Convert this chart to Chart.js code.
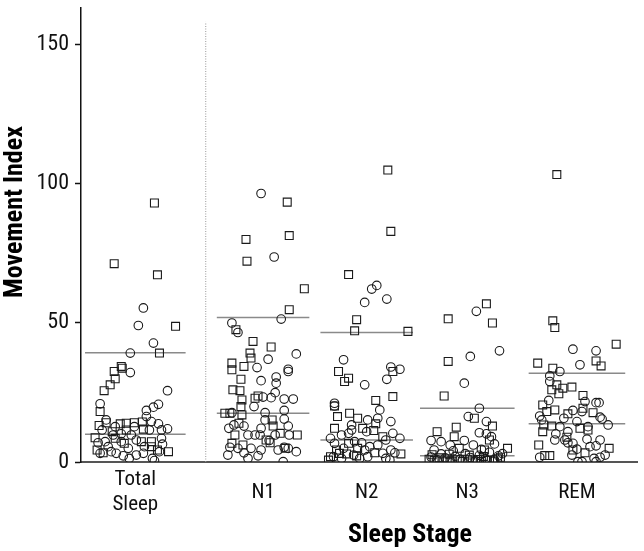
<!DOCTYPE html>
<html>
<head>
<meta charset="utf-8">
<script src="https://cdn.jsdelivr.net/npm/chart.js@4/dist/chart.umd.min.js"></script>
<style>
html, body { margin: 0; padding: 0; background: #fff; }
#wrap { width: 644px; height: 551px; position: relative; }
</style>
</head>
<body>
<div id="wrap"><canvas id="chart"></canvas></div>
<script>
// ---- data ----
const categories = [["Total", "Sleep"], "N1", "N2", "N3", "REM"];
const categoryCenters = [0, 1.27, 2.3, 3.3, 4.39];
const yTicks = [0, 50, 100, 150];

// horizontal reference lines per stage
const upperLine = [39.2, 51.9, 46.5, 19.3, 31.9];
const lowerLine = [10.0, 17.5, 7.9, 2.2, 13.7];

// [jitter, movement index]
const totalSquares = [[-0.21,71.2],[0.22,67.2],[0.40,48.7],[0.24,39.1],[-0.14,34.3],[-0.13,33.7],[-0.21,32.5],[-0.20,29.9],[-0.25,27.7],[-0.31,25.6],[-0.35,18.1],[-0.36,13.1],[-0.29,14.1],[-0.15,13.7],[-0.09,13.9],[-0.01,14.1],[0.07,14.4],[0.08,11.8],[-0.09,11.5],[-0.23,10.9],[-0.40,8.7],[0.06,7.3],[0.16,7.3],[0.16,5.5],[0.33,3.7],[-0.38,4.3],[-0.32,3.3],[-0.11,6.7],[0.22,4.3],[-0.20,8.5],[0.19,93.0]];
const totalCircles = [[0.08,55.3],[0.03,49.0],[0.18,42.7],[-0.05,39.1],[-0.05,32.1],[0.32,25.6],[-0.35,20.9],[0.23,20.7],[0.18,19.7],[0.11,18.5],[0.11,16.3],[-0.29,15.1],[0.16,14.5],[0.23,13.7],[0.26,11.5],[0.32,11.9],[-0.01,12.7],[-0.20,12.7],[-0.14,10.1],[-0.22,9.7],[-0.04,9.7],[0.26,8.5],[-0.30,7.3],[-0.14,7.3],[0.01,7.9],[0.27,6.4],[-0.37,6.9],[-0.27,5.5],[-0.07,4.9],[0.09,5.5],[0.24,3.7],[-0.19,3.1],[-0.35,3.1],[0.01,2.5],[-0.12,2.2],[0.17,1.3],[0.19,0.5],[-0.24,3.7],[-0.06,1.3],[0.08,3.1],[-0.33,11.5],[0.14,11.5]];

const n1Squares = [[0.24,93.3],[-0.17,79.9],[0.26,81.3],[-0.16,72.1],[0.41,62.2],[0.26,54.7],[-0.27,47.5],[-0.10,43.3],[0.08,41.3],[-0.13,39.1],[-0.12,37.3],[-0.31,35.5],[-0.31,33.1],[-0.19,34.3],[-0.22,29.7],[-0.30,25.9],[-0.23,25.6],[-0.21,22.3],[-0.05,23.7],[-0.08,22.9],[-0.22,19.9],[-0.38,17.5],[-0.33,17.5],[-0.21,16.9],[-0.24,13.9],[0.09,15.1],[0.10,12.9],[-0.28,9.7],[0.17,10.3],[0.34,9.7],[-0.31,6.7],[-0.20,6.1],[0.03,7.9],[0.07,6.9],[0.22,4.9]];
const n1Circles = [[-0.02,96.4],[0.11,73.6],[0.18,51.3],[-0.31,49.9],[-0.25,46.5],[0.33,38.8],[0.05,36.9],[-0.06,33.9],[0.25,33.3],[0.25,32.5],[0.13,30.5],[-0.02,29.2],[0.13,28.3],[0.12,24.9],[0.08,23.1],[0,23.3],[-0.09,19.9],[0.21,22.6],[0.30,22.6],[-0.31,17.7],[0.02,17.7],[0.21,18.5],[0.21,15.4],[0.02,15.1],[-0.29,13.3],[-0.19,12.9],[-0.02,12.1],[0.25,12.9],[-0.34,12.1],[-0.15,9.7],[-0.08,9.7],[-0.03,9.7],[0.12,9.7],[0.26,9.7],[0.06,7.7],[-0.33,5.3],[-0.25,4.9],[-0.12,4.9],[-0.02,4.3],[0.15,4.3],[0.25,4.9],[0.33,3.7],[-0.35,2.5],[-0.15,1.3],[-0.05,2.2],[0.20,0.1],[-0.19,3.3],[0.21,5.3]];

const n2Squares = [[0.21,104.8],[0.24,82.8],[-0.18,67.3],[-0.10,51.1],[-0.12,47.1],[0.41,46.9],[-0.28,32.5],[-0.18,30.1],[-0.22,28.9],[0.26,32.5],[0.09,22.1],[0.26,23.5],[-0.32,20.1],[-0.29,16.3],[-0.17,17.5],[-0.09,15.7],[0.09,13.7],[-0.32,12.1],[-0.04,12.1],[0.07,11.3],[0.16,9.1],[-0.18,6.7],[-0.30,4.3],[-0.09,4.9],[0.08,3.3],[0.34,2.9],[-0.36,1.9],[-0.20,2.9],[-0.38,0.7],[-0.27,3.1],[-0.10,2.2]];
const n2Circles = [[0.10,63.4],[0.05,62.1],[-0.02,57.3],[0.20,58.5],[-0.23,36.7],[0.24,34.1],[0.33,33.3],[0.20,29.7],[-0.02,27.7],[-0.32,21.1],[0.13,18.7],[0.01,15.1],[0.24,14.5],[-0.15,13.3],[0.11,15.7],[-0.25,9.7],[-0.18,10.3],[0,10.9],[0.26,10.3],[-0.36,8.5],[-0.12,7.3],[-0.05,6.9],[0.19,7.9],[0.33,8.5],[-0.32,6.7],[0.03,5.5],[0.11,6.1],[-0.23,4.9],[0.24,4.3],[-0.02,4.3],[0.16,3.1],[0.28,3.3],[-0.33,1.9],[-0.13,2.5],[-0.07,1.3],[0.01,1.9],[0.19,1.3],[0.23,0.7],[-0.25,1.3],[-0.32,20.1],[-0.15,11.5]];

const n3Squares = [[0.19,56.8],[-0.19,51.4],[0.25,49.9],[-0.19,36.1],[-0.23,23.7],[0.07,15.7],[0.25,12.9],[-0.11,12.5],[-0.30,10.9],[-0.13,9.1],[0.22,7.9],[0.40,4.9],[-0.08,4.9],[0.17,4.3],[0.33,1.7],[-0.38,1.0],[-0.33,0.5],[-0.28,1.5],[-0.24,0.4],[-0.20,1.2],[-0.15,0.3],[-0.10,0.8],[-0.05,0.2],[0,1.0],[0.05,0.4],[0.10,0.9],[0.14,0.2],[0.20,0.6],[0.26,0.3],[0.30,1.2],[-0.35,2.6],[-0.18,2.8],[0.02,2.5],[0.16,2.0]];
const n3Circles = [[0.09,54.1],[0.32,39.9],[0.03,37.9],[-0.03,28.3],[0.12,19.3],[0.01,16.3],[0.19,14.5],[0.12,10.5],[0.19,10.1],[0.24,9.1],[-0.03,7.7],[-0.36,7.7],[-0.26,7.3],[0.27,6.5],[-0.17,6.1],[0.06,6.1],[-0.33,4.3],[-0.36,1.8],[-0.30,0.8],[-0.26,2.9],[-0.22,1.5],[-0.17,0.6],[-0.12,2.0],[-0.07,1.0],[-0.02,3.0],[0.03,1.6],[0.08,0.5],[0.12,2.4],[0.18,1.1],[0.22,3.5],[0.27,0.7],[0.31,2.2],[-0.14,4.0],[0.14,4.5],[0.35,3.0]];

const remSquares = [[-0.20,103.2],[-0.24,50.7],[-0.22,48.3],[0.39,42.3],[-0.39,35.5],[0.19,36.3],[0.24,34.5],[-0.24,33.7],[-0.20,27.7],[-0.14,26.5],[-0.05,26.9],[-0.25,25.9],[-0.18,24.5],[0.06,23.9],[-0.34,20.5],[-0.30,18.1],[-0.22,18.7],[0.06,19.3],[0.16,17.7],[-0.09,17.3],[-0.33,13.3],[-0.25,12.9],[-0.34,10.9],[0.03,12.1],[0.11,11.5],[-0.10,8.9],[-0.38,6.1],[0.32,4.9],[-0.32,2.3],[-0.27,2.3],[0.08,3.3],[-0.04,4.3]];
const remCircles = [[-0.04,40.5],[0.19,39.9],[0.03,34.9],[-0.17,32.5],[-0.27,30.9],[-0.27,28.9],[-0.28,22.1],[0.08,21.7],[0.19,21.3],[0.22,21.3],[-0.37,16.5],[-0.35,15.1],[-0.13,15.7],[-0.04,18.5],[0.05,18.1],[0.23,16.1],[0.25,15.4],[0.31,13.3],[0,14.5],[0.11,12.7],[-0.17,12.7],[-0.21,10.1],[-0.09,10.9],[-0.22,7.9],[-0.04,6.7],[0.10,8.2],[0.23,7.9],[0.13,5.5],[0.19,5.8],[0,4.6],[-0.05,2.5],[-0.37,1.7],[0.28,2.5],[0.23,1.7],[0.17,1.3],[0.05,0.1],[0.01,0.1],[0.19,0.1],[-0.09,6.9],[-0.12,7.9]];

const squareGroups = [totalSquares, n1Squares, n2Squares, n3Squares, remSquares];
const circleGroups = [totalCircles, n1Circles, n2Circles, n3Circles, remCircles];

// ---- layout / style ----
const narrow = '"Liberation Sans Narrow", "Arial Narrow", "Roboto Condensed", "DejaVu Sans Condensed", sans-serif';
const lineHalf = [0.5, 0.46, 0.46, 0.47, 0.48];
const separatorX = 0.7;
const separatorTop = 158;

Chart.defaults.font.family = narrow;
Chart.defaults.color = "#000";

function toPoints(groups) {
    return groups.flatMap((g, i) => g.map(p => ({ x: categoryCenters[i] + p[0], y: p[1] })));
}

const datasets = [
    {
        label: "Squares",
        data: toPoints(squareGroups),
        pointStyle: "rect",
        pointRadius: 5.6,
        borderColor: "#1a1a1a",
        backgroundColor: "rgba(0,0,0,0)",
        borderWidth: 1.1
    },
    {
        label: "Circles",
        data: toPoints(circleGroups),
        pointStyle: "circle",
        pointRadius: 4.3,
        borderColor: "#1a1a1a",
        backgroundColor: "rgba(0,0,0,0)",
        borderWidth: 1.1
    }
];

// reference lines
[upperLine, lowerLine].forEach(vals => {
    vals.forEach((v, i) => {
        datasets.push({
            type: "line",
            data: [
                { x: categoryCenters[i] - lineHalf[i], y: v },
                { x: categoryCenters[i] + lineHalf[i], y: v }
            ],
            borderColor: "#8a8a8a",
            borderWidth: 1.5,
            pointRadius: 0
        });
    });
});

// dotted separator between total sleep and the stages
datasets.push({
    type: "line",
    data: [{ x: separatorX, y: 0 }, { x: separatorX, y: separatorTop }],
    borderColor: "#9a9a9a",
    borderWidth: 1,
    borderDash: [1, 1.5],
    pointRadius: 0
});

const axisTitles = {
    id: "axisTitles",
    afterDraw(chart) {
        const ctx = chart.ctx;
        ctx.save();
        ctx.fillStyle = "#000";
        ctx.font = "bold 26px " + narrow;
        ctx.textAlign = "center";
        ctx.textBaseline = "middle";
        ctx.fillText("Sleep Stage", 410, 535);
        ctx.translate(15, 212);
        ctx.rotate(-Math.PI / 2);
        ctx.fillText("Movement Index", 0, 0);
        ctx.restore();
    }
};

new Chart(document.getElementById("chart"), {
    type: "scatter",
    data: { datasets: datasets },
    plugins: [axisTitles],
    options: {
        responsive: true,
        maintainAspectRatio: false,
        animation: false,
        layout: { padding: { top: 8, right: 1, left: 0, bottom: 0 } },
        plugins: {
            legend: { display: false },
            tooltip: { enabled: false }
        },
        scales: {
            x: {
                type: "linear",
                min: -0.54,
                max: 4.99,
                afterBuildTicks: axis => { axis.ticks = categoryCenters.map(v => ({ value: v })); },
                afterFit: axis => { axis.height = 89; axis.paddingLeft = 0; axis.paddingRight = 0; },
                grid: { display: false, drawTicks: false },
                border: { display: true, color: "#555", width: 2 },
                ticks: {
                    autoSkip: false,
                    maxRotation: 0,
                    padding: 18,
                    crossAlign: "center",
                    font: { size: 21 },
                    color: "#111",
                    callback: (v, i) => categories[i]
                }
            },
            y: {
                min: 0,
                max: 163,
                afterBuildTicks: axis => { axis.ticks = yTicks.map(v => ({ value: v })); },
                afterFit: axis => { axis.width = 81; axis.paddingTop = 0; axis.paddingBottom = 0; },
                grid: { drawOnChartArea: false, tickLength: 6, color: "#111", tickWidth: 1.5 },
                border: { display: true, color: "#111", width: 1.5 },
                ticks: {
                    padding: 6,
                    font: { size: 22 },
                    color: "#111"
                }
            }
        }
    }
});
</script>
</body>
</html>
